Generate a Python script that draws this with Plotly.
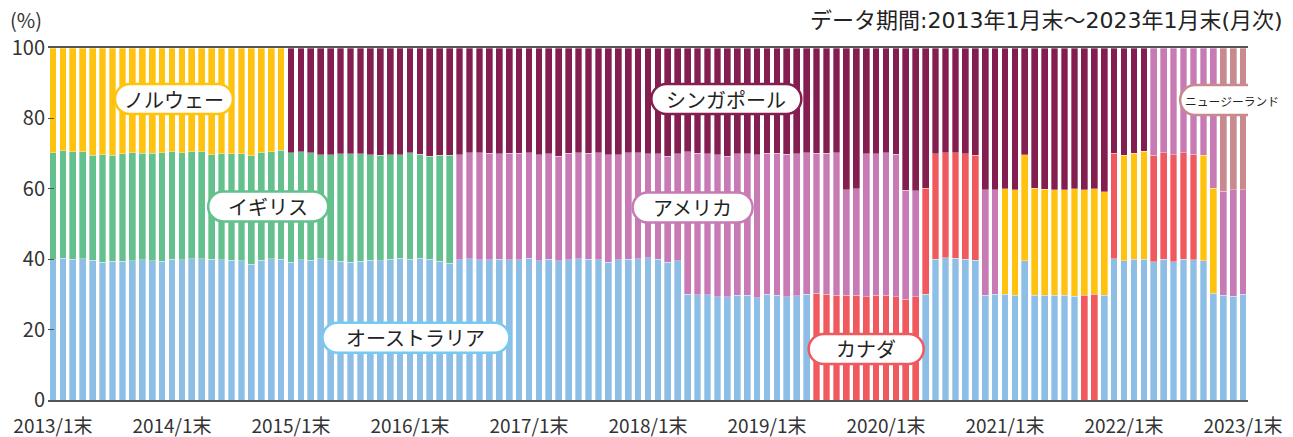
import plotly.graph_objects as go

N = None
months = list(range(121))
tick_idx = [0, 12, 24, 36, 48, 60, 72, 84, 96, 108, 120]
tick_text = ["2013/1末", "2014/1末", "2015/1末", "2016/1末", "2017/1末", "2018/1末",
             "2019/1末", "2020/1末", "2021/1末", "2022/1末", "2023/1末"]

australia = [39.8, 40.3, 40.0, 40.1, 39.7, 39.2, 39.4, 39.4, 39.5, 39.9, 39.5, 39.4,
             40.0, 39.8, 40.2, 40.2, 40.0, 39.8, 39.7, 39.5, 38.6, 39.7, 40.2, 40.0,
             39.1, 39.8, 39.7, 40.2, 39.5, 39.4, 39.2, 39.4, 39.7, 39.5, 40.0, 40.3,
             40.0, 40.3, 40.0, 39.4, 38.9, 39.9, 40.1, 39.8, 39.9, 40.0, 39.8, 39.8,
             40.3, 39.5, 40.0, 39.5, 39.8, 40.2, 40.0, 39.8, 39.2, 39.8, 40.0, 40.2,
             40.4, 40.0, 39.2, 39.5, 30.0, 29.9, 29.9, 29.4, 29.4, 29.8, 29.7, 29.1,
             30.0, 29.7, 29.4, 29.6, 30.0, N, N, N, N, N, N, N,
             N, N, N, N, 30.1, 40.0, 40.4, 40.3, 40.0, 39.7, 29.8, 30.0,
             30.0, 29.8, 39.5, 29.8, 29.8, 29.8, 29.8, 29.5, N, N, 29.8, 40.1,
             39.5, 40.0, 40.0, 39.3, 40.0, 39.3, 40.0, 39.8, 39.5, 30.3, 29.8, 29.5,
             30.1]

canada = [N] * 77 + [30.3, 30.1, 29.8, 29.7, 29.7, 29.4, 29.7, 29.8, 29.4, 28.6, 29.4,
                     30.1, 29.9, 29.8, 30.0, 30.0, 29.9,
                     N, N, N, N, N, N, N, N, N, N,
                     29.8, 30.0, N, 30.0, N, N, N,
                     30.2, 30.3, 30.4, 30.3, 30.0,
                     N, N, N, N, N]

uk = [30.5, 30.5, 30.5, 30.4, 29.9, 30.5, 30.1, 30.6, 30.8, 30.2, 30.6, 30.8,
      30.5, 30.5, 30.3, 30.3, 29.7, 30.2, 30.2, 30.5, 30.8, 30.6, 30.3, 30.9,
      31.2, 30.7, 30.5, 29.5, 30.2, 30.5, 30.7, 30.6, 30.0, 30.0, 29.7, 29.4,
      30.3, 29.5, 29.2, 30.1, 30.7] + [N] * 80

norway = [29.7, 29.2, 29.5, 29.5, 30.4, 30.3, 30.5, 30.0, 29.7, 29.9, 29.9, 29.8,
          29.5, 29.7, 29.5, 29.5, 30.3, 30.0, 30.1, 30.0, 30.6, 29.7, 29.5, 29.1] + \
         [N] * 72 + \
         [30.0, 30.0, 30.2, 30.3, 30.1, 30.0, 29.9, 30.5, 29.9, 30.0, 29.4, N,
          30.0, 30.1, 30.6, N, N, N, N, N, 30.0, 29.9, N, N, N]

usa = [N] * 41 + [29.8, 30.2, 30.5, 30.2, 30.0, 30.3, 30.3, 30.0, 30.2, 29.9, 29.8,
                  30.3, 30.1, 30.1, 30.5, 30.5, 29.9, 30.3, 30.1, 29.5, 30.0, 30.1,
                  30.5, 40.5, 40.2, 40.1, 40.3, 39.9, 40.2, 40.2, 40.6, 40.1, 40.4,
                  40.4, 40.4, 40.3, 39.8, 40.0, 40.4, 30.1, 30.3, 40.6, 40.3, 40.5,
                  40.4, 31.0, 30.0,
                  N, N, N, N, N, N, 30.0, 29.8,
                  N, N, N, N, N, N, N, N, N, N, N, N, N, N, N,
                  30.5, 29.7, 30.3, 29.7, 30.2, 30.5, 39.8, 29.5, 30.3, 29.7]

singapore = [N] * 24 + [29.7, 29.5, 29.8, 30.3, 30.3, 30.1, 30.1, 30.0, 30.3, 30.5,
                        30.3, 30.3, 29.7, 30.2, 30.8, 30.5, 30.4, 30.3, 29.7, 29.7,
                        29.9, 30.0, 29.9, 29.9, 29.7, 30.3, 30.1, 30.7, 29.9, 29.7,
                        29.9, 29.7, 30.3, 30.3, 29.7, 29.7, 30.1, 30.0, 30.7, 30.0,
                        29.5, 29.9, 30.0, 30.3, 30.7, 30.0, 30.1, 30.3, 29.9, 29.9,
                        30.2, 30.0, 29.7, 29.9, 29.9, 29.8, 40.2, 40.0, 30.0, 30.0,
                        29.7, 30.2, 40.4, 40.6, 39.8, 30.1, 29.8, 29.7, 30.0, 30.4,
                        40.2, 40.2, 40.0, 40.2, 30.3, 39.9, 40.1, 40.2, 40.3, 40.0,
                        40.3, 40.0, 40.8, 29.9, 30.5, 29.9, 29.4] + [N] * 10

new_zealand = [N] * 118 + [40.7, 40.2, 40.2]

series = [
    ("オーストラリア", australia, "#8CBEE6"),
    ("カナダ", canada, "#F05A5F"),
    ("イギリス", uk, "#64C08C"),
    ("ノルウェー", norway, "#FFC30F"),
    ("アメリカ", usa, "#C87AB4"),
    ("シンガポール", singapore, "#841E50"),
    ("ニュージーランド", new_zealand, "#C88A8E"),
]

# label pills: name, x (month index), y (%), width px, border colour, font size
labels = [
    ("ノルウェー", 12.2, 85.5, 118, "#FFC30F", 20),
    ("イギリス", 21.7, 55.0, 120, "#64C08C", 20),
    ("オーストラリア", 36.6, 17.7, 187, "#74CAF2", 20),
    ("シンガポール", 67.9, 85.5, 150, "#841E50", 20),
    ("アメリカ", 64.5, 54.7, 120, "#C87AB4", 20),
    ("カナダ", 82.0, 14.5, 115, "#F05A5F", 20),
    ("ニュージーランド", 118.9, 85.2, 104, "#C88A8E", 11.8),
]

FONT = "Noto Sans CJK JP"
WIDE = "DejaVu Sans, Noto Sans CJK JP"
fig = go.Figure()
for name, vals, col in series:
    fig.add_trace(go.Bar(x=months, y=vals, name=name, marker_color=col,
                         marker_line=dict(color="rgba(255,255,255,0.55)", width=0.6)))


def pill(w, h):
    r = h / 2
    k = 0.5523 * r
    a = w / 2 - r
    return (f"M{-a},{-r} L{a},{-r} C{a + k},{-r} {w / 2},{-k} {w / 2},0 "
            f"C{w / 2},{k} {a + k},{r} {a},{r} L{-a},{r} "
            f"C{-a - k},{r} {-w / 2},{k} {-w / 2},0 C{-w / 2},{-k} {-a - k},{-r} {-a},{-r} Z")


shapes = []
annotations = []
for text, xd, yd, w, col, fs in labels:
    shapes.append(dict(type="path", xref="x", yref="y", xsizemode="pixel", ysizemode="pixel",
                       xanchor=xd, yanchor=yd, path=pill(w, 30), fillcolor="white",
                       line=dict(color=col, width=2.5), layer="above"))
    annotations.append(dict(x=xd, y=yd, xref="x", yref="y", text=text, showarrow=False,
                            font=dict(family=FONT, size=fs, color="#222222")))

annotations.append(dict(x=0, y=1.0, xref="paper", yref="paper", xshift=-40, yshift=12,
                        text="(%)", showarrow=False, xanchor="left", yanchor="bottom",
                        font=dict(family=FONT, size=20, color="#333333")))
annotations.append(dict(x=1.0, y=1.0, xref="paper", yref="paper", xshift=37, yshift=13,
                        text="データ期間:2013年1月末～2023年1月末(月次)", showarrow=False,
                        xanchor="right", yanchor="bottom",
                        font=dict(family=WIDE, size=22, color="#222222")))

fig.update_layout(
    barmode="stack", bargap=0.32, width=1293, height=437,
    margin=dict(l=48, r=45, t=48, b=37, autoexpand=False),
    paper_bgcolor="white", plot_bgcolor="white", showlegend=False,
    shapes=shapes, annotations=annotations,
    font=dict(family=FONT, color="#333333"),
)
fig.update_xaxes(range=[-0.5, 120.5], tickmode="array", tickvals=tick_idx, ticktext=tick_text,
                 showline=True, linecolor="#555555", linewidth=1.5, mirror=True, automargin=False,
                 showgrid=False, zeroline=False, ticks="", ticklabelstandoff=8,
                 tickfont=dict(family=FONT, size=19, color="#333333"))
fig.update_yaxes(range=[0, 100], tickvals=[0, 20, 40, 60, 80, 100], showgrid=False, zeroline=False,
                 showline=False, ticks="inside", ticklen=6, tickcolor="#555555", automargin=False,
                 ticklabelstandoff=2,
                 tickfont=dict(family=FONT, size=20, color="#333333"))

fig.write_html("out.html", config={"displayModeBar": False},
               post_script="document.body.style.margin='0px';")
